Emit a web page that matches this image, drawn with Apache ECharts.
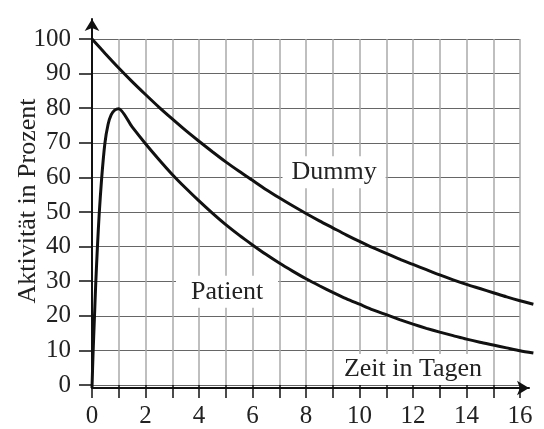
<!DOCTYPE html>
<html>
<head>
<meta charset="utf-8">
<script src="https://cdn.jsdelivr.net/npm/echarts@6/dist/echarts.min.js"></script>
<style>html,body{margin:0;background:#fff}#main{width:544px;height:429px}</style>
</head>
<body>
<div id="main"></div>
<script>
// Werte
var dummyDays = [0, 0.5, 1, 1.5, 2, 2.5, 3, 3.5, 4, 4.5, 5, 5.5, 6, 6.5, 7, 7.5, 8, 8.5,
    9, 9.5, 10, 10.5, 11, 11.5, 12, 12.5, 13, 13.5, 14, 14.5, 15, 15.5, 16, 16.5];
var dummyValues = [100, 95.8, 91.7, 87.8, 84.1, 80.5, 77.1, 73.8, 70.7, 67.7, 64.8, 62.1, 59.5, 56.9, 54.5, 52.2, 50, 47.9,
    45.9, 43.9, 42, 40.2, 38.6, 36.9, 35.4, 33.9, 32.4, 31, 29.7, 28.5, 27.3, 26.1, 25, 24];

var patientDays = [0, 0.04, 0.09, 0.14, 0.2, 0.27, 0.36, 0.48, 0.6, 0.72, 0.85, 1, 1.5, 2, 2.5, 3, 3.5, 4, 4.5,
    5, 5.5, 6, 6.5, 7, 7.5, 8, 8.5, 9, 9.5, 10, 10.5, 11, 11.5, 12, 12.5, 13, 13.5, 14, 14.5, 15, 15.5, 16, 16.5];
var patientValues = [0, 10, 20, 30, 40, 50, 60, 70, 75.5, 78.3, 79.6, 80, 74.8, 70, 65.5, 61.2, 57.3, 53.6, 50.1,
    46.8, 43.8, 41, 38.3, 35.8, 33.5, 31.3, 29.3, 27.4, 25.6, 24, 22.4, 21, 19.6, 18.3, 17.1, 16, 15, 14, 13.1, 12.3, 11.5, 10.7, 10];

var xLabels = [0, 2, 4, 6, 8, 10, 12, 14, 16];
var yLabels = [0, 10, 20, 30, 40, 50, 60, 70, 80, 90, 100];

var FONT = '"Liberation Serif", "Times New Roman", serif';

function pairs(xs, ys) {
    return xs.map(function (x, i) { return [x, ys[i]]; });
}

var chart = echarts.init(document.getElementById('main'));

chart.setOption({
    animation: false,
    backgroundColor: '#fff',
    grid: [
        {left: 92, top: 39, width: 428, height: 349},      // Gitterlinien 0..16
        {left: 92, top: 39, width: 441.375, height: 349},  // Kurven 0..16.5
        {left: 92, top: 19, width: 437, height: 369}       // Achsen mit Pfeil
    ],
    xAxis: [{
        gridIndex: 0, type: 'value', min: 0, max: 16, interval: 1,
        axisLine: {show: false},
        axisTick: {show: true, inside: false, length: 13, lineStyle: {color: '#111', width: 1.5}},
        axisLabel: {
            margin: 19, fontSize: 25, fontFamily: FONT, color: '#222',
            formatter: function (v) { return xLabels.indexOf(v) >= 0 ? String(v) : ''; }
        },
        splitLine: {show: true, lineStyle: {color: '#aaa', width: 1.5}}
    }, {
        gridIndex: 1, type: 'value', min: 0, max: 16.5, show: false
    }, {
        gridIndex: 2, type: 'value', min: 0, max: 1,
        axisLine: {show: true, symbol: ['none', 'arrow'], symbolSize: [11, 12], lineStyle: {color: '#111', width: 2}},
        axisTick: {show: false}, axisLabel: {show: false}, splitLine: {show: false}
    }],
    yAxis: [{
        gridIndex: 0, type: 'value', min: 0, max: 100, interval: 10,
        axisLine: {show: false},
        axisTick: {show: true, inside: false, length: 13, lineStyle: {color: '#111', width: 1.5}},
        axisLabel: {
            margin: 21, fontSize: 25, fontFamily: FONT, color: '#222',
            formatter: function (v) { return yLabels.indexOf(v) >= 0 ? String(v) : ''; }
        },
        splitLine: {show: true, lineStyle: {color: '#666', width: 1}}
    }, {
        gridIndex: 1, type: 'value', min: 0, max: 100, show: false
    }, {
        gridIndex: 2, type: 'value', min: 0, max: 1,
        axisLine: {show: true, symbol: ['none', 'arrow'], symbolSize: [11, 12], lineStyle: {color: '#111', width: 2}},
        axisTick: {show: false}, axisLabel: {show: false}, splitLine: {show: false}
    }],
    series: [{
        name: 'Dummy', type: 'line', xAxisIndex: 1, yAxisIndex: 1,
        data: pairs(dummyDays, dummyValues),
        showSymbol: false, smooth: 0.3,
        lineStyle: {color: '#111', width: 3}
    }, {
        name: 'Patient', type: 'line', xAxisIndex: 1, yAxisIndex: 1,
        data: pairs(patientDays, patientValues),
        showSymbol: false, smooth: 0.25,
        lineStyle: {color: '#111', width: 3}
    }]
});

// Beschriftungen im Diagramm, Lage in Datenkoordinaten
var notes = [
    {text: 'Dummy', at: [9.05, 61.8], pad: [3, 9, 3, 9]},
    {text: 'Patient', at: [5.05, 27.6], pad: [3, 15, 3, 15]},
    {text: 'Zeit in Tagen', at: [12.0, 5.3], pad: [3, 8, 2, 8]}
];

var graphics = notes.map(function (n) {
    var p = chart.convertToPixel({gridIndex: 1}, n.at);
    return {
        type: 'text', x: p[0], y: p[1], z: 1,
        style: {
            text: n.text, font: '26px ' + FONT, fill: '#222',
            align: 'center', verticalAlign: 'middle',
            backgroundColor: '#fff', padding: n.pad
        }
    };
});
graphics.push({
    type: 'text', x: 28, y: 201, rotation: Math.PI / 2, z: 1,
    style: {
        text: 'Aktivität in Prozent', font: '26px ' + FONT, fill: '#222',
        align: 'center', verticalAlign: 'middle'
    }
});

chart.setOption({graphic: graphics});
</script>
</body>
</html>
